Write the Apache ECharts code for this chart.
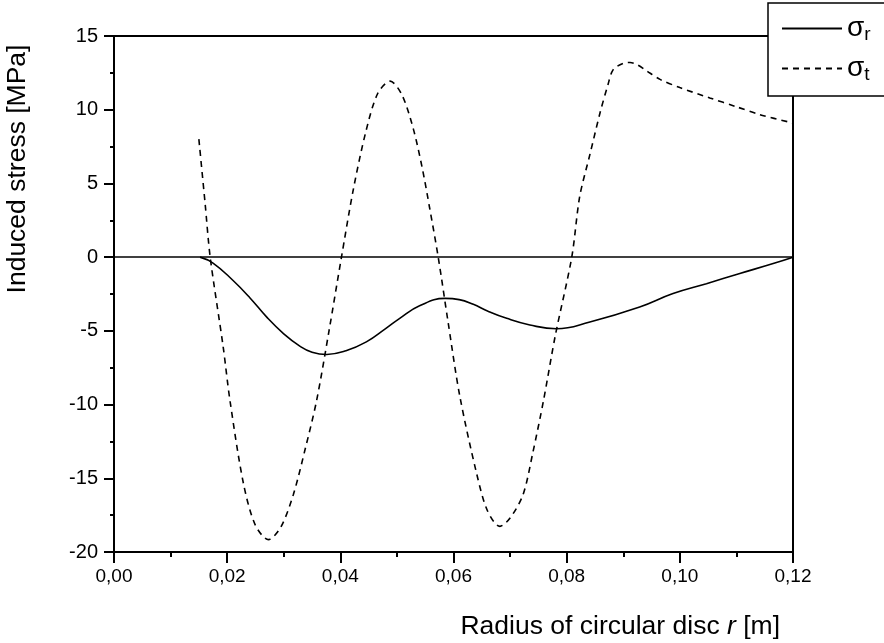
<!DOCTYPE html>
<html>
<head>
<meta charset="utf-8">
<script src="https://cdn.jsdelivr.net/npm/echarts@6/dist/echarts.min.js"></script>
<style>
  html, body { margin: 0; padding: 0; background: #fff; }
  #chart { width: 884px; height: 643px; }
</style>
</head>
<body>
<div id="chart"></div>
<script>
// radius r [m] and stress values [MPa]
var rRadial = [0.0152, 0.0175, 0.021, 0.024, 0.027, 0.030, 0.0329, 0.035, 0.0376, 0.041, 0.0446, 0.048, 0.0505, 0.054, 0.0585, 0.061, 0.0635, 0.066, 0.0694, 0.0735, 0.0782, 0.0841, 0.0929, 0.0988, 0.1047, 0.1106, 0.1165, 0.12];
var sigmaR = [0, -0.4, -1.57, -2.75, -4.07, -5.2, -6.05, -6.45, -6.6, -6.35, -5.75, -4.85, -4.15, -3.3, -2.8, -2.88, -3.2, -3.65, -4.15, -4.6, -4.86, -4.4, -3.38, -2.47, -1.8, -1.11, -0.43, 0];

var rTang = [0.015, 0.0161, 0.017, 0.0193, 0.0205, 0.0229, 0.025, 0.0273, 0.0295, 0.0317, 0.0338, 0.0358, 0.038, 0.0402, 0.0423, 0.0445, 0.0466, 0.0488, 0.0509, 0.0529, 0.0545, 0.0558, 0.0573, 0.059, 0.0611, 0.0641, 0.066, 0.0682, 0.070, 0.0723, 0.074, 0.0759, 0.078, 0.0809, 0.0823, 0.0841, 0.0859, 0.0873, 0.0882, 0.090, 0.0912, 0.0925, 0.0942, 0.0965, 0.1, 0.1053, 0.11, 0.1141, 0.12];
var sigmaT = [8, 3.65, 0, -6.1, -9.74, -15.4, -18.2, -19.16, -18.3, -16.1, -13, -9.74, -5, 0, 4.6, 8.5, 11.1, 11.94, 11.0, 8.7, 6.0, 3.3, 0, -4.3, -9.4, -14.7, -17.2, -18.26, -17.7, -16.1, -13.3, -9.74, -5.3, 0, 4.1, 6.95, 9.79, 11.7, 12.7, 13.15, 13.2, 13.05, 12.62, 12.06, 11.5, 10.8, 10.2, 9.67, 9.1];

var xTicks = { min: 0, max: 0.12, step: 0.02 };
var yTicks = { min: -20, max: 15, step: 5 };

function pairs(xs, ys) {
    return xs.map(function (x, i) { return [x, ys[i]]; });
}

var chart = echarts.init(document.getElementById('chart'));
var font = 'Liberation Sans, Arial, sans-serif';

var option = {
    backgroundColor: '#fff',
    animation: false,
    grid: {
        left: 114, right: 91, top: 36, bottom: 91,
        show: true, borderColor: '#000', borderWidth: 2
    },
    legend: {
        left: 768, top: 3,
        orient: 'vertical',
        backgroundColor: '#fff',
        borderColor: '#000',
        borderWidth: 1.5,
        borderRadius: 0,
        padding: [10, 40, 12, 13],
        itemWidth: 60,
        itemHeight: 16,
        itemGap: 9,
        z: 10,
        itemStyle: { opacity: 0 },
        data: ['r', 't'],
        formatter: function (name) { return '{s|σ}{b|' + name + '}'; },
        textStyle: {
            color: '#000',
            rich: {
                s: { fontFamily: font, fontSize: 28, color: '#000', lineHeight: 28 },
                b: { fontFamily: font, fontSize: 19, color: '#000', padding: [12, 0, 0, 0], lineHeight: 28 }
            }
        }
    },
    xAxis: {
        type: 'value',
        min: xTicks.min, max: xTicks.max, interval: xTicks.step,
        axisLine: { onZero: false, lineStyle: { color: '#000', width: 2 } },
        axisTick: { inside: false, length: 11, lineStyle: { color: '#000', width: 2 } },
        minorTick: { show: true, splitNumber: 2, length: 5, lineStyle: { color: '#000', width: 2 } },
        splitLine: { show: false },
        axisLabel: {
            margin: 15, color: '#000', fontFamily: font, fontSize: 19,
            formatter: function (v) { return v.toFixed(2).replace('.', ','); }
        }
    },
    yAxis: {
        type: 'value',
        min: yTicks.min, max: yTicks.max, interval: yTicks.step,
        axisLine: { show: true, onZero: false, lineStyle: { color: '#000', width: 2 } },
        axisTick: { show: true, inside: false, length: 10, lineStyle: { color: '#000', width: 2 } },
        minorTick: { show: true, splitNumber: 2, length: 4, lineStyle: { color: '#000', width: 2 } },
        splitLine: { show: false },
        axisLabel: { margin: 16, color: '#000', fontFamily: font, fontSize: 20 }
    },
    graphic: [
        {
            type: 'text', x: 18, y: 169, rotation: Math.PI / 2,
            style: {
                text: 'Induced stress [MPa]', fill: '#000', font: '26.5px ' + font,
                align: 'center', verticalAlign: 'middle'
            }
        },
        {
            type: 'text', x: 780, y: 627,
            style: {
                text: '{n|Radius of circular disc }{i|r}{n| [m]}',
                align: 'right', verticalAlign: 'middle',
                rich: {
                    n: { fontFamily: font, fontSize: 26.5, fill: '#000' },
                    i: { fontFamily: font, fontSize: 26.5, fontStyle: 'italic', fill: '#000' }
                }
            }
        }
    ],
    series: [
        {
            name: 'r',
            type: 'line',
            data: pairs(rRadial, sigmaR),
            smooth: 0.45,
            symbol: 'none',
            lineStyle: { color: '#000', width: 1.6, type: 'solid' },
            itemStyle: { color: '#000' },
            markLine: {
                silent: true, symbol: 'none', label: { show: false },
                lineStyle: { color: '#000', width: 1.6, type: 'solid' },
                data: [{ yAxis: 0 }]
            }
        },
        {
            name: 't',
            type: 'line',
            data: pairs(rTang, sigmaT),
            smooth: 0.3,
            symbol: 'none',
            lineStyle: { color: '#000', width: 1.6, type: [6, 5] },
            itemStyle: { color: '#000' }
        }
    ]
};

chart.setOption(option);
</script>
</body>
</html>
